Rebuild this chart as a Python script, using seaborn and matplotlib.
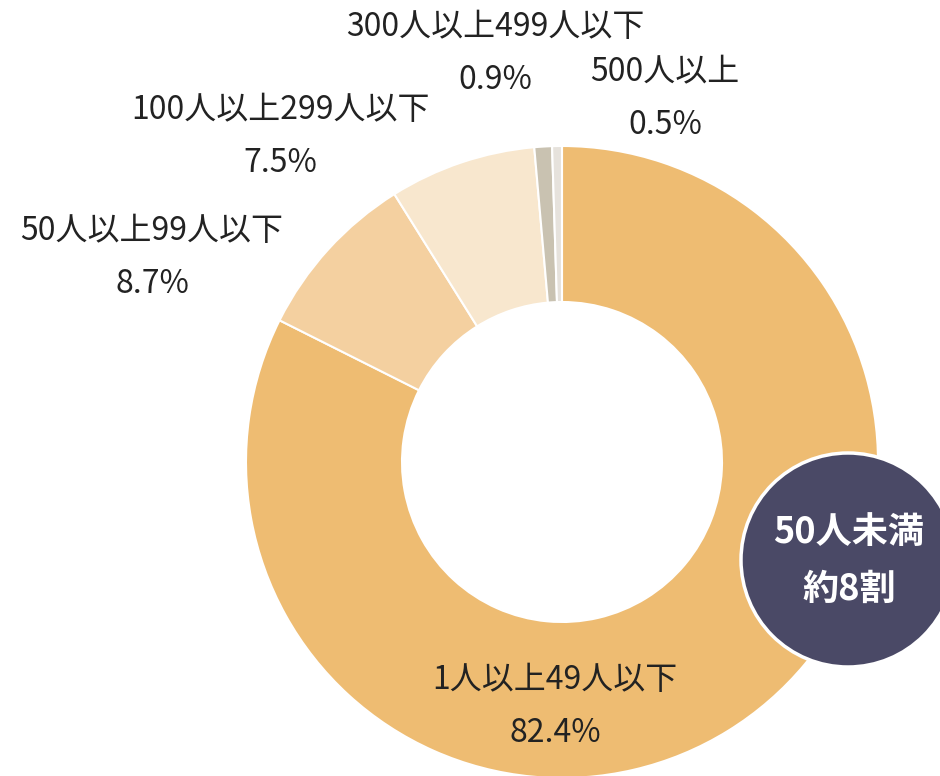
import matplotlib
matplotlib.use("Agg")
import matplotlib.pyplot as plt
from matplotlib.patches import Circle
import seaborn as sns

# data
categories = ["1人以上49人以下", "50人以上99人以下", "100人以上299人以下",
              "300人以上499人以下", "500人以上"]
shares = [82.4, 8.7, 7.5, 0.9, 0.5]
colors = ["#EEBC72", "#F4D0A0", "#F8E7CE", "#C9C2B1", "#E6E2DC"]

sns.set_theme(style="white")
plt.rcParams['font.family'] = ['Noto Sans CJK JP', 'DejaVu Sans']

fig = plt.figure(figsize=(9.4, 7.76), dpi=100)
ax = fig.add_axes([0, 0, 1, 1])

H = 776
cx, cy, r = 562, H - 462, 316
ax.pie(shares, colors=colors, startangle=90, counterclock=False,
       center=(cx, cy), radius=r, frame=True,
       wedgeprops=dict(width=156, edgecolor='white', linewidth=1.5))
ax.set_xlim(0, 940)
ax.set_ylim(0, 776)
ax.set_aspect('equal')
ax.axis('off')

# label positions (pixel coords from top)
label_pos = [(555, 680), (152, 231), (280, 110), (495, 27), (665, 72)]
for name, val, (x, y) in zip(categories, shares, label_pos):
    ax.text(x, H - y, name, ha='center', va='center', fontsize=23, color='#222222')
    ax.text(x, H - y - 53, f"{val}%", ha='center', va='center', fontsize=23, color='#222222')

# badge
badge = Circle((848, H - 560), 107, facecolor='#4A4966', edgecolor='white', linewidth=2.5, zorder=5)
ax.add_patch(badge)
ax.text(849, H - 532, "50人未満", ha='center', va='center', fontsize=26,
        fontweight='bold', color='white', zorder=6)
ax.text(849, H - 589, "約8割", ha='center', va='center', fontsize=26,
        fontweight='bold', color='white', zorder=6)

fig.savefig("out.png", dpi=100, facecolor='white')
